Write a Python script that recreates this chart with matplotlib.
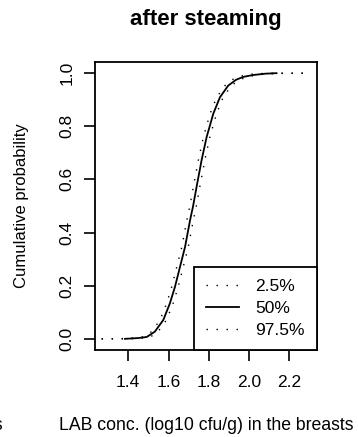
import matplotlib.pyplot as plt

plt.rcParams['font.family'] = ['Liberation Sans', 'DejaVu Sans']

# median (50%) curve
x_50 = [1.384, 1.45, 1.492, 1.532, 1.574, 1.607, 1.632, 1.657, 1.682, 1.707, 1.722,
        1.739, 1.764, 1.789, 1.822, 1.855, 1.896, 1.935, 1.971, 2.02, 2.08, 2.136]
y_50 = [0.000, 0.003, 0.007, 0.027, 0.071, 0.134, 0.196, 0.271, 0.346, 0.447, 0.500,
        0.571, 0.672, 0.759, 0.847, 0.909, 0.953, 0.975, 0.986, 0.993, 0.998, 1.000]

# 2.5% curve
x_025 = [1.268, 1.37, 1.44, 1.476, 1.516, 1.558, 1.591, 1.616, 1.641, 1.666, 1.691, 1.706,
         1.723, 1.748, 1.773, 1.806, 1.839, 1.88, 1.92, 1.96, 2.02, 2.10, 2.285]
y_025 = [0.000, 0.001, 0.004, 0.008, 0.027, 0.071, 0.134, 0.196, 0.271, 0.346, 0.447, 0.500,
         0.571, 0.672, 0.759, 0.847, 0.909, 0.953, 0.977, 0.989, 0.997, 1.000, 1.000]

# 97.5% curve
x_975 = [1.268, 1.40, 1.47, 1.508, 1.548, 1.59, 1.623, 1.648, 1.673, 1.698, 1.723, 1.738,
         1.755, 1.78, 1.805, 1.838, 1.871, 1.912, 1.95, 1.99, 2.05, 2.15, 2.285]
y_975 = [0.000, 0.000, 0.003, 0.006, 0.027, 0.071, 0.134, 0.196, 0.271, 0.346, 0.447, 0.500,
         0.571, 0.672, 0.759, 0.847, 0.909, 0.953, 0.974, 0.986, 0.995, 0.999, 1.000]

x_ticks = [1.4, 1.6, 1.8, 2.0, 2.2]
y_ticks = [0.0, 0.2, 0.4, 0.6, 0.8, 1.0]

W, H = 358, 437
fig = plt.figure(figsize=(W / 100, H / 100), dpi=100)
ax = fig.add_axes([95 / W, 1 - 350 / H, 222 / W, 288 / H])

dots = (0, (1, 6.2))
ax.plot(x_025, y_025, color='black', lw=1.0, linestyle=dots, label='2.5%')
ax.plot(x_50, y_50, color='black', lw=1.3, label='50%')
ax.plot(x_975, y_975, color='black', lw=1.0, linestyle=dots, label='97.5%')

ax.set_xlim(1.235, 2.337)
ax.set_ylim(-0.042, 1.042)
ax.set_xticks(x_ticks)
ax.set_xticklabels([f"{v:.1f}" for v in x_ticks])
ax.set_yticks(y_ticks)
ax.set_yticklabels([f"{v:.1f}" for v in y_ticks], rotation=90, va='center')
ax.tick_params(axis='both', direction='out', length=8, width=1.2, labelsize=12.5)
ax.tick_params(axis='x', pad=10)
ax.tick_params(axis='y', pad=7)
for s in ax.spines.values():
    s.set_linewidth(1.3)

leg = ax.legend(loc='lower right', borderaxespad=0, fancybox=False, framealpha=1,
                edgecolor='black', fontsize=12.5, handlelength=1.9, handletextpad=0.92,
                labelspacing=0.38, borderpad=0.7)
leg.get_frame().set_linewidth(1.3)

fig.text(205.5 / W, 1 - 20 / H, 'after steaming', ha='center', va='center',
         fontsize=16, fontweight='bold')
fig.text(22 / W, 1 - 206 / H, 'Cumulative probability', ha='center', va='center',
         rotation=90, fontsize=12)
fig.text(206 / W, 1 - 425 / H, 'LAB conc. (log10 cfu/g) in the breasts', ha='center',
         va='center', fontsize=12.7)
# clipped end of a neighbouring panel's label
fig.text(4 / W, 1 - 425 / H, 'breasts', ha='right', va='center', fontsize=12.7)

fig.savefig('out.png', dpi=100)
